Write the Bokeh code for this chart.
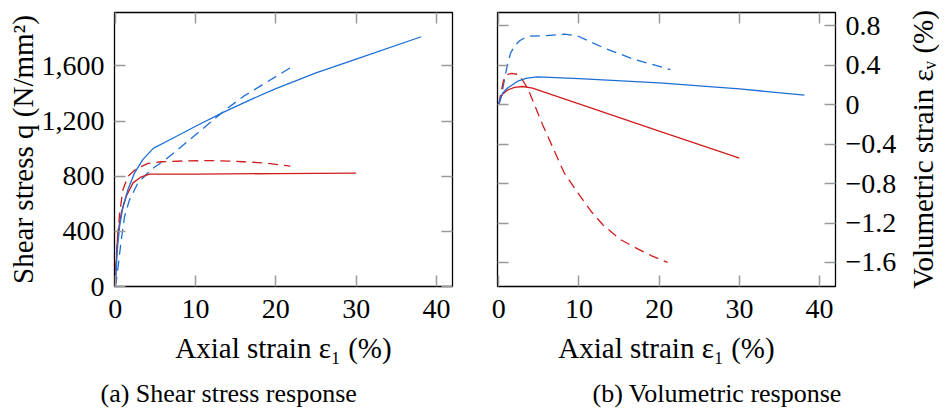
import math
from bokeh.plotting import figure
from bokeh.layouts import row
from bokeh.models import (FixedTicker, NumeralTickFormatter, Range1d, LinearAxis,
                          Title, CustomJSTickFormatter)
from bokeh.embed import file_html
from bokeh.resources import INLINE

# ---------------- data ----------------
x_ticks = [0, 10, 20, 30, 40]
q_ticks = [0, 400, 800, 1200, 1600]
ev_ticks = [-1.6, -1.2, -0.8, -0.4, 0, 0.4, 0.8]

# (a) shear stress
qa_blue_solid_x = [0, 0.25, 0.54, 0.96, 1.58, 2.4, 3.45, 4.7, 4.9, 6.8, 10, 13.5, 17, 20, 25, 30, 38.1]
qa_blue_solid_y = [0, 268, 438, 583, 704, 825, 922, 1000, 1008, 1065, 1163, 1265, 1360, 1435, 1550, 1650, 1812]

qa_red_solid_x = [0, 0.12, 0.3, 0.75, 1.37, 2.2, 3.24, 4.27, 10, 20, 30]
qa_red_solid_y = [0, 180, 380, 535, 655, 752, 796, 815, 816, 819, 822]

qa_red_dash_x = [0, 0.12, 0.54, 0.96, 1.58, 2.6, 4.07, 5.7, 9, 12.7, 16, 18.5, 21.8]
qa_red_dash_y = [0, 220, 535, 704, 800, 854, 893, 905, 912, 913, 905, 897, 873]

qa_blue_dash_x = [0, 0.1, 0.41, 0.75, 1.16, 1.78, 2.83, 4.48, 6.35, 8.55, 13.5, 16.0, 21.8]
qa_blue_dash_y = [0, 27, 172, 341, 510, 631, 752, 849, 925, 1030, 1272, 1381, 1587]

# (b) volumetric strain
vb_blue_solid_x = [0, 0.15, 0.5, 1.1, 2.36, 3.5, 4.8, 10, 20, 30, 38.1]
vb_blue_solid_y = [0, 0.06, 0.12, 0.17, 0.24, 0.27, 0.284, 0.265, 0.223, 0.162, 0.098]

vb_red_solid_x = [0, 0.15, 0.5, 1.1, 1.95, 3.0, 4.2, 10, 20, 30]
vb_red_solid_y = [0, 0.06, 0.11, 0.15, 0.178, 0.186, 0.17, 0.01, -0.266, -0.542]

vb_red_dash_x = [0, 0.3, 0.6, 1.0, 1.6, 2.3, 2.8, 3.6, 5.45, 8.15, 10, 11.5, 13, 15.2, 17.5, 19, 21.05]
vb_red_dash_y = [0, 0.14, 0.25, 0.305, 0.32, 0.31, 0.27, 0.17, -0.2, -0.69, -0.91, -1.08, -1.22, -1.37, -1.47, -1.53, -1.60]

vb_blue_dash_x = [0, 0.3, 0.7, 1.1, 1.5, 2.0, 2.6, 3.6, 5.6, 8.2, 9.8, 13.1, 16.9, 21.4]
vb_blue_dash_y = [0, 0.08, 0.25, 0.42, 0.53, 0.6, 0.65, 0.697, 0.70, 0.717, 0.70, 0.578, 0.46, 0.358]

# ---------------- style ----------------
FONT = "Liberation Serif"
BLUE = "#1c6fd6"
RED = "#d01c1c"
TICK = "#9a9a9a"
LW = 1.3
DASH = "10 6"
TICK_FS = "28px"
LABEL_FS = "29px"
CAP_FS = "26px"
TOP = 12
BOTTOM = 117

EMPTY = CustomJSTickFormatter(code='return "";')


def style_axis(ax, show_labels=True):
    ax.axis_line_color = None
    ax.major_tick_in = 11
    ax.major_tick_out = 0
    ax.major_tick_line_color = TICK
    ax.major_tick_line_width = 1.5
    ax.minor_tick_line_color = None
    ax.major_label_text_font = FONT
    ax.major_label_text_color = "black"
    ax.axis_label_text_font = FONT
    ax.axis_label_text_font_style = "normal"
    ax.axis_label_text_font_size = LABEL_FS
    ax.axis_label_text_color = "black"
    if show_labels:
        ax.major_label_text_font_size = TICK_FS
        ax.major_label_standoff = 10
    else:
        ax.formatter = EMPTY
        ax.major_label_text_font_size = "1px"
        ax.major_label_text_color = None
        ax.major_label_standoff = 0
        ax.axis_label = None


def base_fig(xr, yr, bl, br, fw=338):
    p = figure(frame_width=fw, frame_height=274, x_range=xr, y_range=yr,
               output_backend="svg", toolbar_location=None,
               min_border_left=bl, min_border_right=br,
               min_border_top=TOP, min_border_bottom=BOTTOM,
               x_axis_location=None, y_axis_location=None)
    p.outline_line_color = "black"
    p.outline_line_width = 1.3
    p.outline_line_alpha = 1.0
    p.background_fill_color = "white"
    p.border_fill_color = "white"
    p.grid.visible = False
    return p


def caption(text, offset):
    return Title(text=text, align="left", offset=offset, standoff=21,
                 text_font=FONT, text_font_size=CAP_FS, text_font_style="normal",
                 text_color="black")


# ---------------- (a) ----------------
p1 = base_fig(Range1d(-0.1, 42.0), Range1d(0, 1988), 114, 20)

xb = LinearAxis(ticker=FixedTicker(ticks=x_ticks), axis_label="Axial strain ε₁ (%)")
style_axis(xb)
xb.major_label_standoff = 13
xb.axis_label_standoff = 11
p1.add_layout(xb, "below")
xt = LinearAxis(ticker=FixedTicker(ticks=x_ticks))
style_axis(xt, False)
p1.add_layout(xt, "above")

yl = LinearAxis(ticker=FixedTicker(ticks=q_ticks), axis_label="Shear stress q (N/mm²)",
                formatter=NumeralTickFormatter(format="0,0"))
style_axis(yl)
yl.axis_label_standoff = 0
p1.add_layout(yl, "left")
yr_ = LinearAxis(ticker=FixedTicker(ticks=q_ticks))
style_axis(yr_, False)
p1.add_layout(yr_, "right")

p1.line(qa_blue_dash_x, qa_blue_dash_y, line_color=BLUE, line_width=LW, line_dash=DASH)
p1.line(qa_red_dash_x, qa_red_dash_y, line_color=RED, line_width=LW, line_dash=DASH)
p1.line(qa_red_solid_x, qa_red_solid_y, line_color=RED, line_width=LW)
p1.line(qa_blue_solid_x, qa_blue_solid_y, line_color=BLUE, line_width=LW)

p1.add_layout(caption("(a) Shear stress response", -14), "below")

# ---------------- (b) ----------------
p2 = base_fig(Range1d(-0.16, 41.98), Range1d(-1.844, 0.937), 25, 62)

xb2 = LinearAxis(ticker=FixedTicker(ticks=x_ticks), axis_label="Axial strain ε₁ (%)")
style_axis(xb2)
xb2.major_label_standoff = 13
xb2.axis_label_standoff = 11
p2.add_layout(xb2, "below")
xt2 = LinearAxis(ticker=FixedTicker(ticks=x_ticks))
style_axis(xt2, False)
p2.add_layout(xt2, "above")

fmt = CustomJSTickFormatter(code="""
const v = Math.round(tick*10)/10;
if (v === 0) { return "0"; }
return (v < 0 ? "\\u2212" : "") + Math.abs(v).toFixed(1);
""")
yr2 = LinearAxis(ticker=FixedTicker(ticks=ev_ticks), formatter=fmt)
style_axis(yr2)
p2.add_layout(yr2, "right")
yl2 = LinearAxis(ticker=FixedTicker(ticks=ev_ticks))
style_axis(yl2, False)
p2.add_layout(yl2, "left")

p2.line(vb_blue_dash_x, vb_blue_dash_y, line_color=BLUE, line_width=LW, line_dash=DASH)
p2.line(vb_red_dash_x, vb_red_dash_y, line_color=RED, line_width=LW, line_dash=DASH)
p2.line(vb_red_solid_x, vb_red_solid_y, line_color=RED, line_width=LW)
p2.line(vb_blue_solid_x, vb_blue_solid_y, line_color=BLUE, line_width=LW)

p2.add_layout(caption("(b) Volumetric response", 95), "below")

# ---------------- right-hand axis title (reads bottom to top) ----------------
p3 = base_fig(Range1d(0, 1), Range1d(-1.844, 0.937), 39, 0, fw=1)
p3.outline_line_color = None
yl3 = LinearAxis(ticker=FixedTicker(ticks=[]), formatter=EMPTY,
                 axis_label="Volumetric strain εᵥ (%)")
style_axis(yl3)
yl3.major_tick_in = 0
yl3.major_label_standoff = 0
yl3.axis_label_standoff = 0
p3.add_layout(yl3, "left")

layout = row(p1, p2, p3)
open("out.html", "w").write(file_html(layout, INLINE))
